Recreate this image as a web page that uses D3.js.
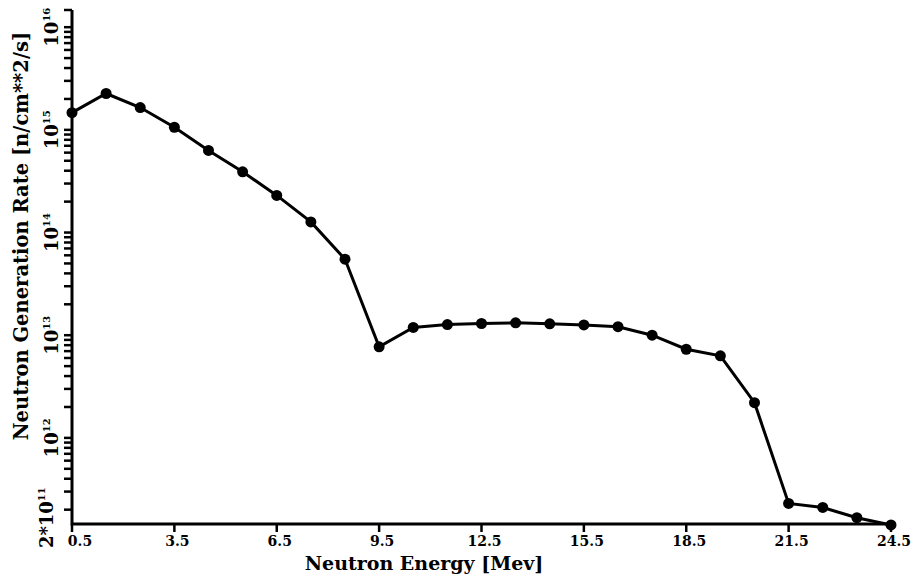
<!DOCTYPE html>
<html>
<head>
<meta charset="utf-8">
<script src="https://cdn.jsdelivr.net/npm/d3@7"></script>
<style>
body { margin: 0; background: #fff; }
svg text { font-family: "DejaVu Serif", serif; font-weight: bold; fill: #000; }
</style>
</head>
<body>
<script>
// Neutron generation rate vs neutron energy (log y)

// data
var energy = [0.5, 1.5, 2.5, 3.5, 4.5, 5.5, 6.5, 7.5, 8.5, 9.5, 10.5, 11.5, 12.5,
              13.5, 14.5, 15.5, 16.5, 17.5, 18.5, 19.5, 20.5, 21.5, 22.5, 23.5, 24.5];
var rate = [1.47e15, 2.26e15, 1.65e15, 1.06e15, 6.3e14, 3.9e14, 2.3e14, 1.27e14, 5.5e13,
            7.7e12, 1.19e13, 1.27e13, 1.30e13, 1.32e13, 1.29e13, 1.26e13, 1.21e13,
            1.0e13, 7.3e12, 6.3e12, 2.2e12, 2.3e11, 2.1e11, 1.67e11, 1.42e11];

var xTicks = [0.5, 3.5, 6.5, 9.5, 12.5, 15.5, 18.5, 21.5, 24.5];
var yDecades = [12, 13, 14, 15, 16];
var yDomain = [1.45e11, 1.47e16];
var xTitle = "Neutron Energy [Mev]";
var yTitle = "Neutron Generation Rate [n/cm**2/s]";

var width = 916, height = 582;
var margin = {top: 10, right: 25, bottom: 58, left: 72};

var svg = d3.select("body").append("svg")
    .attr("width", width)
    .attr("height", height);

var x = d3.scaleLinear()
    .domain([0.5, 24.5])
    .range([margin.left, width - margin.right]);

var y = d3.scaleLog()
    .domain(yDomain)
    .range([height - margin.bottom, margin.top]);

var x0 = x.range()[0], y0 = y.range()[0];

// every 1..9 * 10^n inside the domain, plus the top end of the axis
var yMinor = [];
for (var n = 11; n <= 16; n++) {
  for (var k = 1; k <= 9; k++) {
    var v = k * Math.pow(10, n);
    if (v >= yDomain[0] && v <= yDomain[1]) yMinor.push(v);
  }
}
yMinor.push(yDomain[1]);

// y ticks (outward, to the left)
svg.append("g")
  .attr("class", "ytick")
  .selectAll("path")
  .data(yMinor)
  .enter().append("path")
  .attr("d", function(d) { return "M" + (x0 - 8) + "," + y(d) + "H" + x0; })
  .attr("stroke", "black")
  .attr("stroke-width", 2.5)
  .attr("fill", "none");

// x ticks (downward)
svg.append("g")
  .attr("class", "xtick")
  .selectAll("path")
  .data(xTicks)
  .enter().append("path")
  .attr("d", function(d) { return "M" + x(d) + "," + y0 + "V" + (y0 + 8); })
  .attr("stroke", "black")
  .attr("stroke-width", 2.5)
  .attr("fill", "none");

// axis lines
svg.append("path")
  .attr("d", "M" + x0 + "," + y.range()[1] + "V" + y0 + "H" + (x.range()[1] + 4))
  .attr("stroke", "black")
  .attr("stroke-width", 3)
  .attr("fill", "none");

// x tick labels
svg.append("g")
  .selectAll("text")
  .data(xTicks)
  .enter().append("text")
  .attr("x", function(d, i) { return x(d) + (i == 0 ? 8 : 3); })
  .attr("y", y0 + 22)
  .attr("text-anchor", "middle")
  .style("font-size", "14px")
  .text(function(d) { return d.toFixed(1); });

// y decade labels, rotated, 10 with superscript exponent
var yl = svg.append("g")
  .selectAll("text")
  .data(yDecades)
  .enter().append("text")
  .attr("transform", function(d) { return "translate(58," + y(Math.pow(10, d)) + ") rotate(-90)"; })
  .attr("text-anchor", "middle")
  .style("font-size", "18px");
yl.append("tspan").text("10");
yl.append("tspan")
  .attr("dy", -8)
  .style("font-size", "10px")
  .text(function(d) { return d; });

// bottom label 2*10^11
var lb = svg.append("text")
  .attr("transform", "translate(53," + (y(2e11) + 8) + ") rotate(-90)")
  .attr("text-anchor", "middle")
  .style("font-size", "18px");
lb.append("tspan").text("2*10");
lb.append("tspan").attr("dy", -8).style("font-size", "10px").text("11");

// axis titles
svg.append("text")
  .attr("x", 424)
  .attr("y", height - 12)
  .attr("text-anchor", "middle")
  .style("font-size", "19px")
  .text(xTitle);

svg.append("text")
  .attr("transform", "translate(28,236) rotate(-90)")
  .attr("text-anchor", "middle")
  .style("font-size", "19.5px")
  .text(yTitle);

// line + markers
var pts = energy.map(function(e, i) { return {e: e, r: rate[i]}; });

var line = d3.line()
  .x(function(d) { return x(d.e); })
  .y(function(d) { return y(d.r); });

svg.append("path")
  .datum(pts)
  .attr("fill", "none")
  .attr("stroke", "#000")
  .attr("stroke-width", 3)
  .attr("d", line);

svg.selectAll(".dot")
  .data(pts)
  .enter().append("circle")
  .attr("class", "dot")
  .attr("cx", function(d) { return x(d.e); })
  .attr("cy", function(d) { return y(d.r); })
  .attr("r", 5.5)
  .attr("fill", "#000");
</script>
</body>
</html>
